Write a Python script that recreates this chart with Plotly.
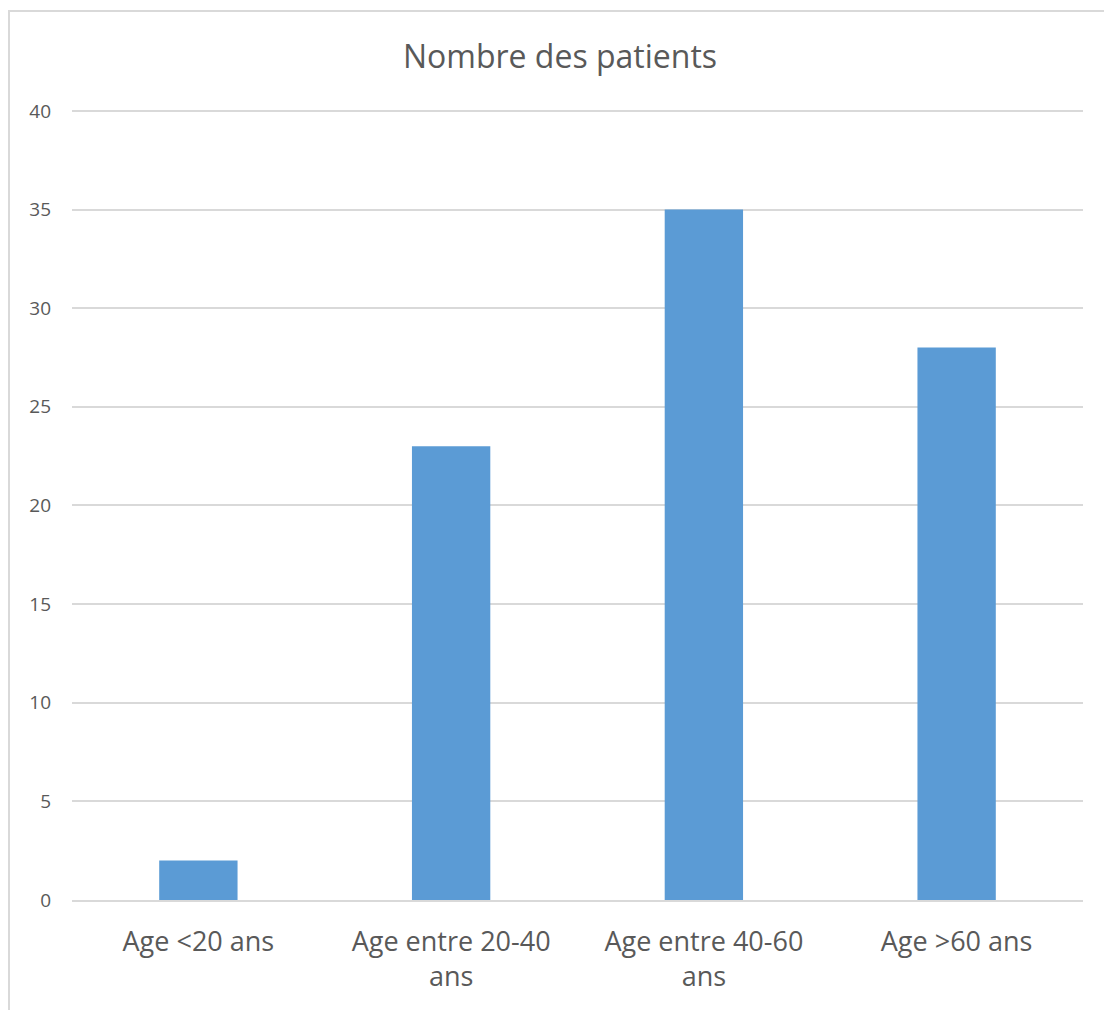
import plotly.graph_objects as go

categories = ["Age <20 ans", "Age entre 20-40<br>ans", "Age entre 40-60<br>ans", "Age >60 ans"]
patients = [2, 23, 35, 28]
y_ticks = [0, 5, 10, 15, 20, 25, 30, 35, 40]

W, H = 1104, 1010
L, R, T, B = 72, 21, 101, 110
pw, ph = W - L - R, H - T - B

fig = go.Figure(go.Bar(
    x=categories, y=patients,
    marker=dict(color="#5b9bd5", line=dict(width=0)),
    hoverinfo="x+y",
))

# light frame around the chart area (extends past right/bottom edges)
fig.add_shape(
    type="rect", xref="paper", yref="paper",
    x0=(9 - L) / pw, x1=(W + 10 - L) / pw,
    y0=-(B + 20) / ph, y1=1 + (T - 11) / ph,
    line=dict(color="#d9d9d9", width=2), fillcolor="rgba(0,0,0,0)", layer="below",
)

fig.update_layout(
    width=W, height=H,
    margin=dict(l=L, r=R, t=T, b=B),
    paper_bgcolor="white", plot_bgcolor="white",
    font=dict(family="Open Sans, Lato, sans-serif", color="#595959"),
    title=dict(text="Nombre des patients", x=560 / W, xanchor="center",
               y=1 - 57 / H, yanchor="middle", yref="container",
               font=dict(size=32, color="#595959")),
    bargap=0.69,
    showlegend=False,
    xaxis=dict(showgrid=False, showline=True, linecolor="#d9d9d9", linewidth=1.5,
               ticks="", tickfont=dict(size=27, color="#595959"),
               ticklabelstandoff=17, fixedrange=True),
    yaxis=dict(range=[0, 40.5], tickvals=y_ticks, showgrid=True, gridcolor="#d9d9d9",
               gridwidth=1.5, zeroline=False, showline=False, ticks="",
               tickfont=dict(size=19, color="#595959"), ticklabelstandoff=20,
               fixedrange=True),
)

fig.write_html("out.html")
